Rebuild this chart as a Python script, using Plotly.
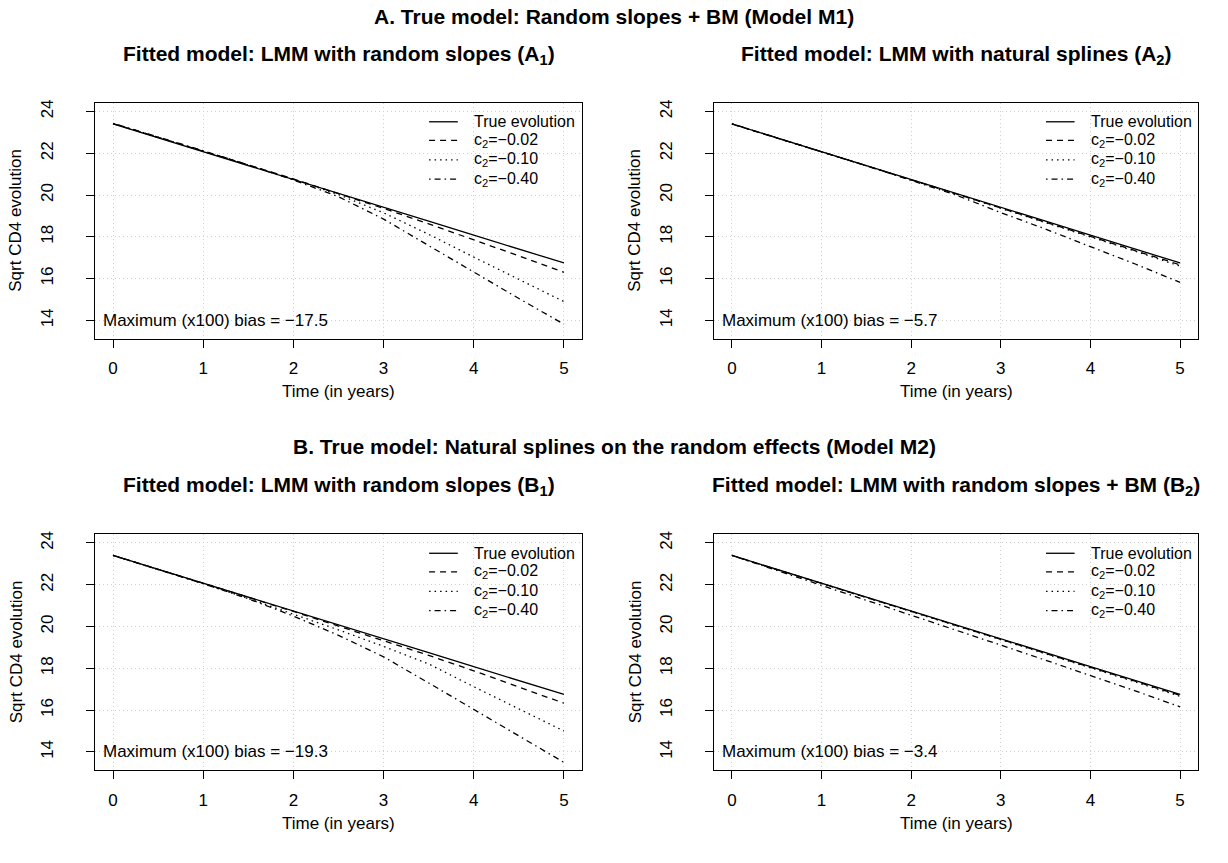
import plotly.graph_objects as go

# ---------------- data ----------------
time = [0, 0.5, 1, 1.5, 2, 2.5, 3, 3.5, 4, 4.5, 5]
true_evol = [23.40, 22.74, 22.07, 21.41, 20.74, 20.08, 19.41, 18.75, 18.08, 17.42, 16.75]

# Panel A1
a1_c002 = [23.42, 22.77, 22.11, 21.44, 20.77, 20.08, 19.36, 18.62, 17.86, 17.09, 16.30]
a1_c010 = [23.42, 22.77, 22.11, 21.44, 20.76, 20.02, 19.15, 18.12, 17.03, 15.96, 14.90]
a1_c040 = [23.43, 22.78, 22.12, 21.44, 20.72, 19.92, 18.85, 17.58, 16.30, 15.05, 13.82]
# Panel A2
a2_c002 = [23.40, 22.74, 22.07, 21.40, 20.73, 20.06, 19.38, 18.71, 18.03, 17.35, 16.66]
a2_c010 = [23.40, 22.74, 22.07, 21.40, 20.73, 20.05, 19.37, 18.69, 18.01, 17.31, 16.60]
a2_c040 = [23.41, 22.75, 22.08, 21.40, 20.70, 20.00, 19.16, 18.37, 17.53, 16.70, 15.82]
# Panel B1
b1_c002 = [23.40, 22.74, 22.07, 21.40, 20.72, 20.03, 19.33, 18.62, 17.88, 17.12, 16.33]
b1_c010 = [23.40, 22.73, 22.05, 21.34, 20.60, 19.84, 19.05, 18.21, 17.12, 16.05, 15.00]
b1_c040 = [23.40, 22.73, 22.05, 21.33, 20.50, 19.58, 18.55, 17.30, 16.02, 14.75, 13.50]
# Panel B2
b2_c002 = [23.40, 22.73, 22.06, 21.39, 20.72, 20.06, 19.39, 18.72, 18.05, 17.38, 16.71]
b2_c010 = [23.40, 22.73, 22.06, 21.39, 20.72, 20.05, 19.38, 18.71, 18.03, 17.35, 16.66]
b2_c040 = [23.40, 22.69, 21.97, 21.26, 20.54, 19.83, 19.11, 18.39, 17.66, 16.92, 16.16]

series_names = ["True evolution", "c<sub>2</sub>=\u22120.02", "c<sub>2</sub>=\u22120.10", "c<sub>2</sub>=\u22120.40"]
x_ticks = [0, 1, 2, 3, 4, 5]
y_ticks = [14, 16, 18, 20, 22, 24]

panel_titles = [
    "<b>Fitted model: LMM with random slopes (A<sub>1</sub>)</b>",
    "<b>Fitted model: LMM with natural splines (A<sub>2</sub>)</b>",
    "<b>Fitted model: LMM with random slopes (B<sub>1</sub>)</b>",
    "<b>Fitted model: LMM with random slopes + BM (B<sub>2</sub>)</b>",
]
section_titles = [
    "<b>A. True model: Random slopes + BM (Model M1)</b>",
    "<b>B. True model: Natural splines on the random effects (Model M2)</b>",
]
bias_labels = [
    "Maximum (x100) bias = \u221217.5",
    "Maximum (x100) bias = \u22125.7",
    "Maximum (x100) bias = \u221219.3",
    "Maximum (x100) bias = \u22123.4",
]
panels = [
    [true_evol, a1_c002, a1_c010, a1_c040],
    [true_evol, a2_c002, a2_c010, a2_c040],
    [true_evol, b1_c002, b1_c010, b1_c040],
    [true_evol, b2_c002, b2_c010, b2_c040],
]

# ---------------- styling / layout ----------------
W, H = 1228, 863
FONT = "Liberation Sans, Arial, Helvetica, sans-serif"
dashes = ["solid", "6px,5px", "1.5px,4px", "1.5px,4px,6px,4px"]

# plot boxes in pixels: (left, right, top, bottom)
boxes = [
    (95, 582, 100, 337),
    (714, 1198, 100, 337),
    (95, 582, 533, 770),
    (714, 1198, 533, 770),
]

def px_x(p):
    return p / W

def px_y(p):
    return 1 - p / H

fig = go.Figure()
annotations = []
shapes = []

for i, (series, box) in enumerate(zip(panels, boxes)):
    n = "" if i == 0 else str(i + 1)
    xa, ya = "x" + n, "y" + n
    for j, ys in enumerate(series):
        fig.add_trace(go.Scatter(
            x=time, y=ys, mode="lines", name=series_names[j],
            line=dict(color="black", width=1.3, dash=dashes[j]),
            xaxis=xa, yaxis=ya, showlegend=False, hoverinfo="skip",
        ))
    l, r, t, b = box
    axis_common = dict(
        showline=True, linecolor="black", linewidth=1, mirror=True,
        ticks="outside", ticklen=8, tickcolor="black", tickwidth=1,
        showgrid=True, gridcolor="#cfcfcf", griddash="1px,3px", gridwidth=1,
        zeroline=False, tickfont=dict(family=FONT, size=17, color="black"),
    )
    fig.update_layout(**{
        ("xaxis" + n): dict(domain=[px_x(l), px_x(r)], range=[-0.2, 5.2],
                            tickvals=x_ticks, anchor=ya, ticklabelstandoff=6, **axis_common),
        ("yaxis" + n): dict(domain=[px_y(b), px_y(t)], range=[13.12, 24.42],
                            tickvals=y_ticks, anchor=xa, tickangle=-90,
                            ticklabelstandoff=26, **axis_common),
    })
    cx = (l + r) / 2
    cy = (t + b) / 2
    # panel title
    annotations.append(dict(text=panel_titles[i], x=px_x(cx), y=px_y(t - 48), xref="paper", yref="paper",
                            showarrow=False, xanchor="center", yanchor="middle",
                            font=dict(family=FONT, size=21, color="black")))
    # axis titles
    annotations.append(dict(text="Time (in years)", x=px_x(cx), y=px_y(b + 53), xref="paper", yref="paper",
                            showarrow=False, xanchor="center", yanchor="middle",
                            font=dict(family=FONT, size=17, color="black")))
    annotations.append(dict(text="Sqrt CD4 evolution", x=px_x(l - 79), y=px_y(cy), xref="paper", yref="paper",
                            showarrow=False, xanchor="center", yanchor="middle", textangle=-90,
                            font=dict(family=FONT, size=17, color="black")))
    # bias text
    annotations.append(dict(text=bias_labels[i], x=0.012, y=14, xref=xa + " domain", yref=ya,
                            showarrow=False, xanchor="left", yanchor="middle",
                            font=dict(family=FONT, size=17, color="black")))
    # legend (R-style, no frame)
    rows = [0.919, 0.840, 0.758, 0.676]
    for j, yy in enumerate(rows):
        shapes.append(dict(type="line", xref=xa + " domain", yref=ya + " domain",
                           x0=0.686, x1=0.745, y0=yy, y1=yy,
                           line=dict(color="black", width=1.3, dash=dashes[j])))
        annotations.append(dict(text=series_names[j], x=0.775, y=yy, xref=xa + " domain", yref=ya + " domain",
                                showarrow=False, xanchor="left", yanchor="middle",
                                font=dict(family=FONT, size=16, color="black")))

# section titles
annotations.append(dict(text=section_titles[0], x=0.5, y=px_y(14), xref="paper", yref="paper",
                        showarrow=False, xanchor="center", yanchor="middle",
                        font=dict(family=FONT, size=21, color="black")))
annotations.append(dict(text=section_titles[1], x=0.5, y=px_y(445), xref="paper", yref="paper",
                        showarrow=False, xanchor="center", yanchor="middle",
                        font=dict(family=FONT, size=21, color="black")))

fig.update_layout(
    width=W, height=H, margin=dict(l=0, r=0, t=0, b=0),
    paper_bgcolor="white", plot_bgcolor="white",
    showlegend=False, annotations=annotations, shapes=shapes,
    font=dict(family=FONT, color="black"),
)

fig.write_html("out.html", include_plotlyjs=True, config={"displayModeBar": False})
